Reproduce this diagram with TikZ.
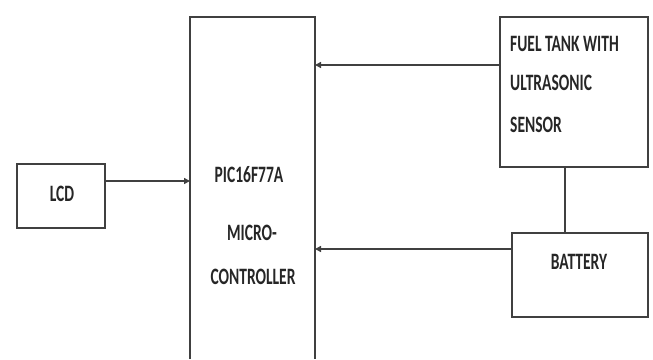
\documentclass[tikz,border=0pt]{standalone}
\usepackage{fontspec}
\setmainfont{Carlito}[FakeStretch=0.66]
\usetikzlibrary{arrows.meta}
\begin{document}
\begin{tikzpicture}[x=1pt,y=-1pt,
  boxline/.style={draw=black!75, line width=1.3pt},
  conn/.style={draw=black!75, line width=1.6pt},
  arr/.style={conn,-{Triangle[length=6pt,width=6pt]}},
  lbl/.style={font=\fontsize{23.5}{23.5}\selectfont\bfseries, text=black!85, inner sep=0pt}]
\useasboundingbox (0,0) rectangle (653,359);
% boxes
\node[boxline, minimum width=88pt, minimum height=64pt, inner sep=0pt] (lcd) at (61,196) {};
\node[boxline, minimum width=148pt, minimum height=150pt, inner sep=0pt] (fuel) at (574,92) {};
\node[boxline, minimum width=136pt, minimum height=84pt, inner sep=0pt] (bat) at (580,275) {};
\coordinate (mcl) at (190,359);
\coordinate (mcr) at (315,359);
\draw[boxline] (mcl) -- (190,17) -- (315,17) -- (mcr);
\coordinate (mcA) at (315,65);
\coordinate (mcB) at (315,249);
\coordinate (mcC) at (190,181);
% texts
\node[lbl] (tlcd) at (62,194) {LCD};
\node[lbl] (tpic) at (249,175) {PIC16F77A};
\node[lbl] (tmic) at (252,233) {MICRO-};
\node[lbl] (tcon) at (253,277) {CONTROLLER};
\node[lbl, anchor=west] (tf1) at (510,44) {FUEL TANK WITH};
\node[lbl, anchor=west] (tf2) at (510,83) {ULTRASONIC};
\node[lbl, anchor=west] (tf3) at (510,125) {SENSOR};
\node[lbl] (tbat) at (579,262) {BATTERY};
% connectors
\draw[arr] (lcd.east |- mcC) -- (mcC);
\draw[arr] (fuel.west |- mcA) -- (mcA);
\draw[arr] (bat.west |- mcB) -- (mcB);
\draw[conn, line width=1.2pt] (565,167) -- (565,233);
\end{tikzpicture}
\end{document}
